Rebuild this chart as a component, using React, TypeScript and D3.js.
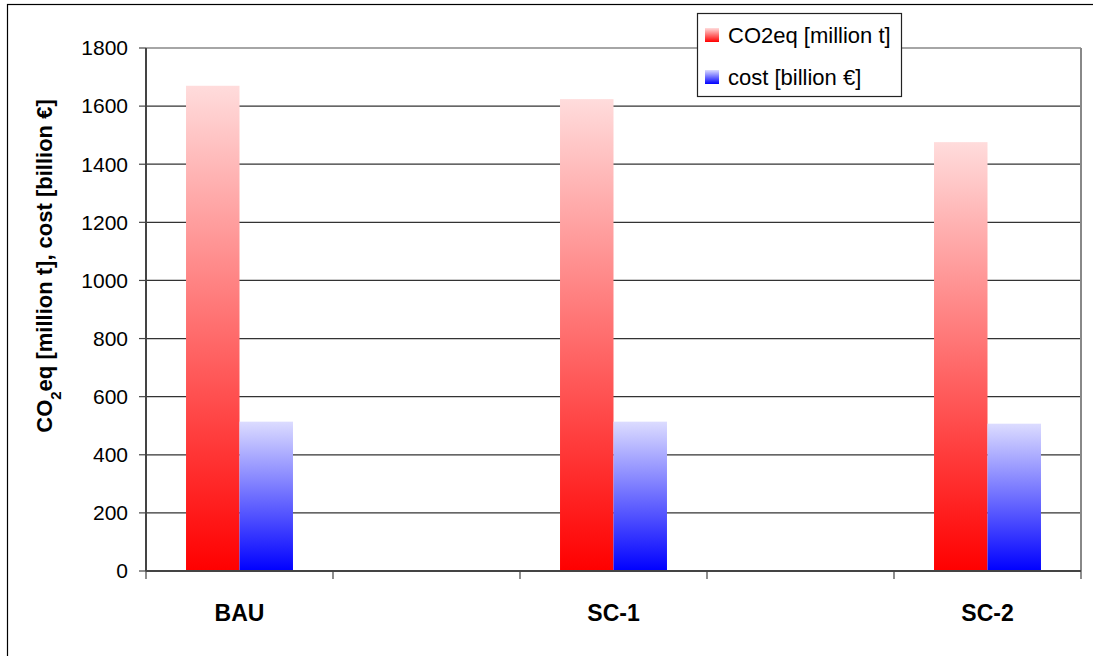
import React from "react";
import * as d3 from "d3";

const categories = ["BAU", "", "SC-1", "", "SC-2"];
const co2eq = [1670, null, 1624, null, 1476];
const cost = [514, null, 514, null, 507];
const seriesNames = ["CO2eq [million t]", "cost [billion €]"];
const yTicks = [0, 200, 400, 600, 800, 1000, 1200, 1400, 1600, 1800];

const W = 1093;
const H = 656;
const plot = { left: 146, right: 1081, top: 48, bottom: 571 };
const FONT = "'Liberation Sans', Arial, sans-serif";

export default function App() {
  const ids = categories.map((_, i) => String(i));
  const x = d3.scaleBand<string>().domain(ids).range([plot.left, plot.right]).padding(0);
  const bw = x.bandwidth();
  const x1 = d3
    .scaleBand<string>()
    .domain(["co2", "cost"])
    .range([bw * 0.214, bw * 0.786])
    .padding(0);
  const y = d3.scaleLinear().domain([0, 1800]).range([plot.bottom, plot.top]);

  const seriesData = [
    { key: "co2", values: co2eq, grad: "gradRed" },
    { key: "cost", values: cost, grad: "gradBlue" },
  ];

  return (
    <div style={{ position: "absolute", left: 0, top: 0 }}>
      <svg width={W} height={H} style={{ display: "block", background: "#fff" }}>
        <defs>
          <linearGradient id="gradRed" x1="0" y1="1" x2="0" y2="0">
            <stop offset="0" stopColor="#ff0000" />
            <stop offset="1" stopColor="#ffdcdc" />
          </linearGradient>
          <linearGradient id="gradBlue" x1="0" y1="1" x2="0" y2="0">
            <stop offset="0" stopColor="#0000ff" />
            <stop offset="1" stopColor="#dcdcff" />
          </linearGradient>
        </defs>
        <rect x={7.5} y={4.5} width={1200} height={800} fill="#fff" stroke="#000" strokeWidth={1.2} />

        {/* gridlines */}
        {yTicks.slice(1, -1).map((t) => (
          <line key={t} x1={plot.left} x2={plot.right} y1={y(t)} y2={y(t)} stroke="#333" strokeWidth={1.2} />
        ))}
        {/* top and right plot border */}
        <line x1={plot.left} x2={plot.right} y1={y(1800)} y2={y(1800)} stroke="#888" strokeWidth={1.5} />
        <line x1={plot.right} x2={plot.right} y1={plot.top} y2={plot.bottom} stroke="#888" strokeWidth={2} />

        {/* bars */}
        {seriesData.map((s) =>
          s.values.map((v, i) =>
            v == null ? null : (
              <rect
                key={s.key + i}
                x={(x(ids[i]) as number) + (x1(s.key) as number)}
                y={y(v)}
                width={x1.bandwidth()}
                height={y(0) - y(v)}
                fill={`url(#${s.grad})`}
              />
            )
          )
        )}

        {/* y axis */}
        <line x1={plot.left} x2={plot.left} y1={plot.top} y2={plot.bottom} stroke="#444" strokeWidth={2} />
        {yTicks.map((t) => (
          <g key={t}>
            <line x1={plot.left - 7} x2={plot.left} y1={y(t)} y2={y(t)} stroke="#444" strokeWidth={1.2} />
            <text x={128} y={y(t)} dy="0.35em" textAnchor="end" fontFamily={FONT} fontSize={21} fill="#000">
              {t}
            </text>
          </g>
        ))}

        {/* x axis */}
        <line x1={plot.left} x2={plot.right} y1={plot.bottom} y2={plot.bottom} stroke="#444" strokeWidth={2} />
        {ids.concat(["end"]).map((id, i) => {
          const xx = i < ids.length ? (x(id) as number) : plot.right;
          return <line key={"xt" + i} x1={xx} x2={xx} y1={plot.bottom} y2={plot.bottom + 8} stroke="#444" strokeWidth={1.2} />;
        })}
        {categories.map((c, i) => (
          <text
            key={"c" + i}
            x={(x(ids[i]) as number) + bw / 2}
            y={621}
            textAnchor="middle"
            fontFamily={FONT}
            fontWeight="bold"
            fontSize={23}
            fill="#000"
          >
            {c}
          </text>
        ))}

        {/* y label */}
        <text
          transform={`translate(52, 266) rotate(-90)`}
          textAnchor="middle"
          fontFamily={FONT}
          fontWeight="bold"
          fontSize={22}
          fill="#000"
        >
          CO<tspan baselineShift="sub" fontSize={15}>2</tspan>eq [million t], cost [billion €]
        </text>

        {/* legend */}
        <rect x={697.5} y={13.5} width={204} height={83} fill="#fff" stroke="#222" strokeWidth={1.2} />
        {seriesNames.map((n, i) => (
          <g key={n} transform={`translate(705, ${35 + i * 42})`}>
            <rect x={0} y={-7} width={14} height={14} fill={i === 0 ? "url(#gradRed)" : "url(#gradBlue)"} />
            <text x={23} y={0} dy="0.35em" fontFamily={FONT} fontSize={22} fill="#000">
              {n}
            </text>
          </g>
        ))}
      </svg>
    </div>
  );
}
